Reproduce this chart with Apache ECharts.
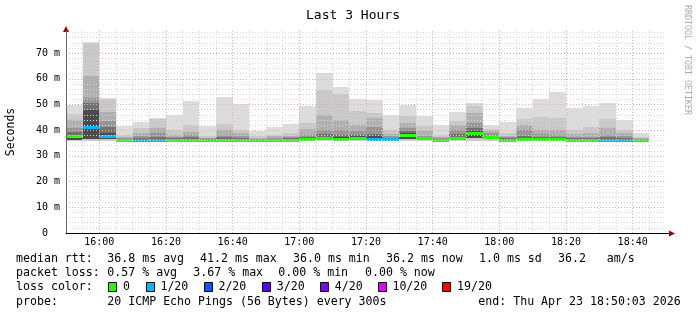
<!DOCTYPE html>
<html><head><meta charset="utf-8">
<script src="https://cdn.jsdelivr.net/npm/echarts@6/dist/echarts.min.js"></script>
<style>html,body{margin:0;padding:0;background:#fff}#c{width:697px;height:315px}</style>
</head><body><div id="c"></div>
<script>
// ---- data ----
const slotStart = ['15:50','15:55','16:00','16:05','16:10','16:15','16:20','16:25','16:30','16:35','16:40','16:45','16:50','16:55','17:00','17:05','17:10','17:15','17:20','17:25','17:30','17:35','17:40','17:45','17:50','17:55','18:00','18:05','18:10','18:15','18:20','18:25','18:30','18:35','18:40'];
const smokeMax  = [49.9,74.3,52.5,41.8,43.2,44.7,45.8,51.5,41.8,52.9,50.3,39.8,41.2,42.4,49.5,62.4,56.9,52.1,51.9,46.0,49.9,45.4,41.9,47.2,50.6,41.9,43.0,48.6,52.1,55.0,48.6,49.4,50.6,43.8,39.0];
const band2Top  = [46.3,73.8,52.0,38.3,40.9,44.2,40.2,42.1,37.6,42.4,40.2,37.6,38.3,38.9,42.9,55.8,54.1,47.3,46.6,40.1,45.4,41.5,38.3,43.5,49.3,40.6,38.9,44.2,45.0,44.6,40.1,41.4,44.2,40.1,37.5];
const band3Top  = [44.1,61.0,47.1,37.2,38.9,40.9,38.3,39.3,37.1,40.2,38.9,37.0,37.6,37.8,40.3,46.0,44.1,42.1,44.6,38.5,42.8,39.6,37.3,42.0,46.7,39.6,37.8,42.0,40.1,40.1,38.5,38.8,40.7,38.8,37.0];
const band4Top  = [41.0,52.5,43.5,36.8,37.6,38.8,37.5,38.0,36.8,38.3,37.8,36.7,37.1,37.2,38.1,40.2,40.2,39.6,41.4,37.6,40.9,37.6,36.8,40.2,42.8,38.8,37.2,40.1,38.5,38.3,37.4,37.4,38.1,37.8,36.6];
const band5Top  = [39.2,50.6,41.1,36.6,37.0,37.3,37.0,37.2,36.5,37.3,37.0,36.5,36.7,36.8,37.3,38.4,38.3,38.2,38.5,37.1,39.6,37.1,36.4,38.5,40.9,37.9,36.8,37.7,37.3,37.2,36.9,36.9,37.2,37.0,36.4];
const band6Top  = [38.3,48.0,39.0,36.5,36.6,36.7,36.6,36.7,36.4,36.7,36.6,36.4,36.5,36.5,36.9,37.4,37.3,37.6,37.8,36.8,38.8,36.9,36.2,37.3,39.6,37.6,36.5,37.1,36.8,36.8,36.6,36.6,36.7,36.6,36.3];
const smokeMin  = [35.9,35.7,35.8,35.8,35.9,35.9,35.9,35.9,35.8,35.9,35.8,35.8,35.8,35.9,35.9,35.9,35.9,35.9,35.9,35.9,35.9,35.8,35.7,35.9,35.9,35.9,35.8,35.9,35.9,35.9,35.8,35.8,35.9,35.8,35.7];
const coreMin   = [36.3,36.5,36.4,36.0,36.1,36.1,36.1,36.1,36.0,36.1,36.0,36.0,36.0,36.1,36.2,36.3,36.2,36.3,36.3,36.2,36.7,36.3,35.9,36.3,37.0,36.8,36.0,36.3,36.2,36.2,36.1,36.1,36.2,36.1,35.9];
const medianRtt = [37.6,41.2,37.6,36.3,36.3,36.3,36.3,36.3,36.2,36.3,36.2,36.2,36.2,36.3,36.7,36.8,36.7,37.1,36.6,36.6,38.3,36.8,36.0,36.8,39.1,37.4,36.2,36.6,36.5,36.6,36.3,36.3,36.3,36.3,36.2];
const lossIdx   = [0,1,1,0,1,1,0,0,0,0,0,0,0,0,0,0,0,0,1,1,0,0,0,0,0,0,0,0,0,0,0,0,1,1,0];
const lossLabels = ['0','1/20','2/20','3/20','4/20','10/20','19/20'];
const lossColors = ['#26ff00','#00b8ff','#0059ff','#5e00ff','#7e00ff','#dd00ff','#ff0000'];
const xTickLabels = ['16:00','16:20','16:40','17:00','17:20','17:40','18:00','18:20','18:40'];
const yTickValues = [0,10,20,30,40,50,60,70];

// ---- helpers ----
const STEP = 5;
const toMin = s => { const [h,m] = s.split(':').map(Number); return h*60+m; };
const fmt = v => { const h = Math.floor(v/60), m = v%60; return h + ':' + (m<10?'0':'') + m; };
const FONT = 'DejaVu Sans Mono';

function bandSeries(lowArr, highArr, color) {
  return {
    type: 'custom', silent: true, animation: false,
    renderItem: (params, api) => {
      const t = api.value(0), lo = api.value(1), hi = api.value(2);
      const p1 = api.coord([t, hi]), p2 = api.coord([t + STEP, lo]);
      const x1 = Math.round(p1[0]), x2 = Math.round(p2[0]);
      const y1 = Math.round(p1[1]), y2 = Math.round(p2[1]);
      return { type: 'rect', shape: { x: x1, y: y1, width: x2 - x1, height: y2 - y1 }, style: { fill: color } };
    },
    encode: { x: 0, y: [1, 2] },
    data: slotStart.map((s, i) => [toMin(s), lowArr[i], highArr[i]])
  };
}

const medianSeries = {
  type: 'custom', silent: true, animation: false,
  renderItem: (params, api) => {
    const t = api.value(0), v = api.value(1), li = api.value(2);
    const p1 = api.coord([t, v]), p2 = api.coord([t + STEP, v]);
    const x1 = Math.round(p1[0]), x2 = Math.round(p2[0]);
    const yc = Math.round(p1[1]);
    return { type: 'rect', shape: { x: x1, y: yc - 1, width: x2 - x1, height: 3 }, style: { fill: lossColors[li] } };
  },
  encode: { x: 0, y: 1 },
  data: slotStart.map((s, i) => [toMin(s), medianRtt[i], lossIdx[i]])
};

const xMin = toMin(slotStart[0]);
const xMax = toMin('18:50');
const G = '#d6d6d6', R = '#e8a8a8';

const chart = echarts.init(document.getElementById('c'), null, { renderer: 'canvas' });
const option = {
  backgroundColor: '#ffffff',
  animation: false,
  title: { text: 'Last 3 Hours', left: 348, top: 4, textAlign: 'center',
    textStyle: { fontFamily: FONT, fontSize: 13, fontWeight: 'normal', color: '#000' } },
  grid: { left: 66, right: 31, top: 31, bottom: 82, containLabel: false, outerBoundsMode: 'none' },
  xAxis: {
    type: 'value', min: xMin, max: xMax, interval: 5, z: 5,
    axisLine: { show: true, lineStyle: { color: '#000', width: 1 } },
    axisTick: { show: false },
    axisLabel: { show: true, margin: 4, fontFamily: FONT, fontSize: 10, color: '#000',
      showMinLabel: false, showMaxLabel: false,
      formatter: v => xTickLabels.indexOf(fmt(v)) >= 0 ? fmt(v) : '' },
    splitLine: { show: true, showMinLine: false, showMaxLine: false,
      lineStyle: { color: [G, R, G, G], width: 1, type: [1, 2] } }
  },
  yAxis: {
    type: 'value', min: 0, max: 78.6, interval: 2, z: 5,
    name: 'Seconds', nameLocation: 'middle', nameGap: 49, nameRotate: 90,
    nameTextStyle: { fontFamily: FONT, fontSize: 11.5, color: '#000' },
    axisLine: { show: true, lineStyle: { color: '#666', width: 1 } },
    axisTick: { show: false },
    axisLabel: { margin: 6, fontFamily: FONT, fontSize: 10, color: '#000',
      formatter: v => yTickValues.indexOf(v) >= 0 ? (v === 0 ? '0  ' : v + ' m') : '' },
    splitLine: { show: true, showMinLine: false, showMaxLine: false,
      lineStyle: { color: [G, G, G, G, R], width: 1, type: [1, 2] } }
  },
  series: [
    bandSeries(smokeMin, smokeMax, '#dcdcdc'),
    bandSeries(smokeMin, band2Top, '#c8c8c8'),
    bandSeries(coreMin, band3Top, '#b0b0b0'),
    bandSeries(coreMin, band4Top, '#969696'),
    bandSeries(coreMin, band5Top, '#727272'),
    bandSeries(coreMin, band6Top, '#4c4c4c'),
    medianSeries
  ]
};
chart.setOption(option);

// ---- decorations & legend text ----
const tl = chart.convertToPixel({ gridIndex: 0 }, [xMin, 78.6]);
const br = chart.convertToPixel({ gridIndex: 0 }, [xMax, 0]);
const gfx = [];
gfx.push({ type: 'polygon', shape: { points: [[tl[0]-3, tl[1]+1], [tl[0]+3, tl[1]+1], [tl[0], tl[1]-5]] }, style: { fill: '#a00000' } });
gfx.push({ type: 'line', shape: { x1: br[0], y1: br[1]+0.5, x2: br[0]+3, y2: br[1]+0.5 }, style: { stroke: '#000', lineWidth: 1 } });
gfx.push({ type: 'polygon', shape: { points: [[br[0]+3, br[1]-2.5], [br[0]+3, br[1]+3.5], [br[0]+9, br[1]+0.5]] }, style: { fill: '#a00000' } });
gfx.push({ type: 'text', x: 687, y: 5, rotation: -Math.PI/2,
  style: { text: 'RRDTOOL / TOBI OETIKER', font: '8.3px "DejaVu Sans Mono"', fill: '#aaaaaa', textAlign: 'left', textVerticalAlign: 'middle' } });

const txt = (x, y, s) => gfx.push({ type: 'text', x: x, y: y,
  style: { text: s, font: '11.6px "DejaVu Sans Mono"', fill: '#000', textAlign: 'left', textVerticalAlign: 'middle' } });
const L1 = 259, L2 = 273.3, L3 = 286.7, L4 = 301.7;
txt(16, L1, 'median rtt:'); txt(107.3, L1, '36.8 ms avg'); txt(200, L1, '41.2 ms max'); txt(293, L1, '36.0 ms min');
txt(386, L1, '36.2 ms now'); txt(479, L1, '1.0 ms sd'); txt(558, L1, '36.2'); txt(606.7, L1, 'am/s');
txt(16, L2, 'packet loss:'); txt(107.3, L2, '0.57 % avg'); txt(193.3, L2, '3.67 % max'); txt(278.3, L2, '0.00 % min'); txt(365, L2, '0.00 % now');
txt(16, L3, 'loss color:');
const boxX = [108.3, 145.7, 203.7, 262, 320, 377.7, 442.3];
lossLabels.forEach((lab, i) => {
  gfx.push({ type: 'rect', shape: { x: Math.round(boxX[i]) + 0.5, y: 282.5, width: 8, height: 9 },
    style: { fill: lossColors[i], stroke: '#000', lineWidth: 1 } });
  txt(boxX[i] + 14.7, L3, lab);
});
txt(16, L4, 'probe:'); txt(107.3, L4, '20 ICMP Echo Pings (56 Bytes) every 300s'); txt(478.3, L4, 'end: Thu Apr 23 18:50:03 2026');
chart.setOption({ graphic: gfx });
</script>
</body></html>
